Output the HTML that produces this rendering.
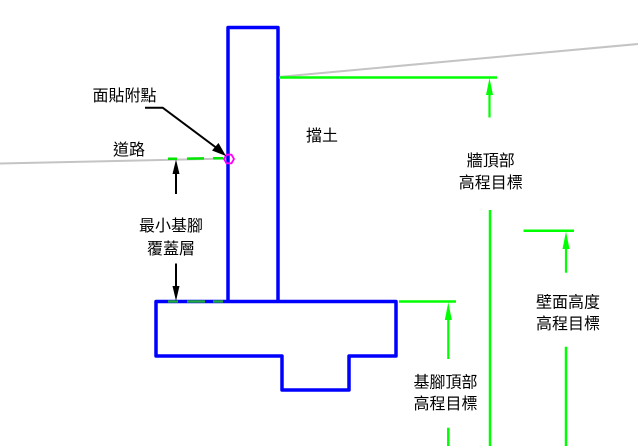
<!DOCTYPE html>
<html><head><meta charset="utf-8"><style>
html,body{margin:0;padding:0;background:#fff;}
svg{display:block;}
text{font-family:"Liberation Sans","Noto Sans CJK TC","Noto Sans CJK SC",sans-serif;font-size:16px;fill:#000;text-anchor:middle;}
</style></head><body>
<svg width="638" height="446" viewBox="0 0 638 446" xmlns="http://www.w3.org/2000/svg">
<!-- ground lines -->
<line x1="0" y1="163.5" x2="228" y2="158.5" stroke="#c4c4c4" stroke-width="2"/>
<line x1="278" y1="77" x2="638" y2="44" stroke="#c4c4c4" stroke-width="2"/>
<!-- wall -->
<path d="M228,301 V27.5 H278 V301" fill="none" stroke="#0000ff" stroke-width="3.5" stroke-linejoin="round"/>
<path d="M156,301.5 H396 V356 H349 V390 H282 V356 H156 Z" fill="none" stroke="#0000ff" stroke-width="3.5" stroke-linejoin="round"/>
<!-- green dashed at road -->
<g stroke="#00e600" stroke-width="2.5">
<line x1="168" y1="158.8" x2="177" y2="158.7"/>
<line x1="187" y1="158.6" x2="204" y2="158.4"/>
<line x1="213" y1="158.3" x2="223" y2="158.2"/>
</g>
<!-- green dashed on footing top -->
<g stroke="#1faa3a" stroke-width="2.5">
<line x1="168" y1="301.5" x2="178" y2="301.5"/>
<line x1="187" y1="301.5" x2="205" y2="301.5"/>
<line x1="213" y1="301.5" x2="223" y2="301.5"/>
</g>
<!-- magenta hexagon -->
<polygon points="234,159 231.5,163.3 226.5,163.3 224,159 226.5,154.7 231.5,154.7" fill="none" stroke="#ff00ff" stroke-width="1.8"/>
<!-- leader for 面貼附點 -->
<polyline points="145,107.7 162.7,107.7 218,149" fill="none" stroke="#000" stroke-width="2"/>
<polygon points="226,156 212,150.5 218.5,143" fill="#000"/>
<!-- min cover arrows -->
<line x1="176" y1="173" x2="176" y2="194" stroke="#000" stroke-width="2"/>
<polygon points="176,159.5 172.5,174 179.5,174" fill="#000"/>
<line x1="176" y1="263.5" x2="176" y2="287" stroke="#000" stroke-width="2"/>
<polygon points="176,301 172.5,286 179.5,286" fill="#000"/>
<!-- wall top elevation -->
<line x1="279" y1="77.5" x2="497" y2="77.5" stroke="#00ff00" stroke-width="2.5"/>
<line x1="489.5" y1="94" x2="489.5" y2="117.5" stroke="#00ff00" stroke-width="2.2"/>
<polygon points="489.5,78 486,95 493,95" fill="#00ff00"/>
<line x1="490" y1="210" x2="490" y2="446" stroke="#00ff00" stroke-width="2.5"/>
<!-- wall face elevation -->
<line x1="523.5" y1="230.7" x2="574" y2="230.7" stroke="#00ff00" stroke-width="2.5"/>
<line x1="566" y1="248" x2="566" y2="272.7" stroke="#00ff00" stroke-width="2.2"/>
<polygon points="566,231.5 562.5,249 569.5,249" fill="#00ff00"/>
<line x1="566" y1="346.7" x2="566" y2="446" stroke="#00ff00" stroke-width="2.5"/>
<!-- footing top elevation -->
<line x1="399" y1="301.5" x2="456" y2="301.5" stroke="#00ff00" stroke-width="2.5"/>
<line x1="448.3" y1="319" x2="448.3" y2="359" stroke="#00ff00" stroke-width="2.2"/>
<polygon points="448.3,302.3 444.8,320 451.8,320" fill="#00ff00"/>
<line x1="448.3" y1="427.7" x2="448.3" y2="446" stroke="#00ff00" stroke-width="2.5"/>
<!-- labels -->
<text x="124.5" y="101">面貼附點</text>
<text x="129" y="155">道路</text>
<text x="322" y="141">擋土</text>
<text x="490.7" y="166">牆頂部</text>
<text x="490.7" y="188">高程目標</text>
<text x="171" y="231">最小基腳</text>
<text x="171" y="254">覆蓋層</text>
<text x="568" y="307.5">壁面高度</text>
<text x="568" y="329">高程目標</text>
<text x="445.5" y="387.5">基腳頂部</text>
<text x="445.5" y="409">高程目標</text>
</svg>
</body></html>
